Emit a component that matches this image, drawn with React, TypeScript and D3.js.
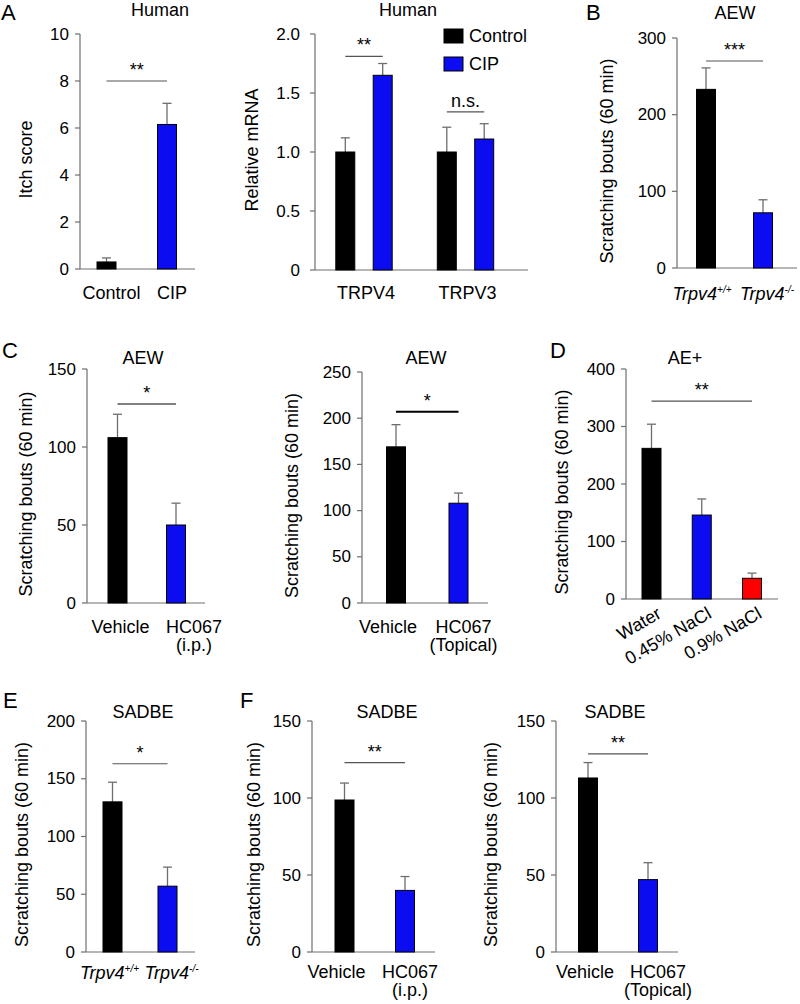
import React from "react";
import * as d3 from "d3";

// ---------- DATA ----------
const itchCategories = ["Control", "CIP"];
const itchValues = [0.3, 6.15];
const itchSem = [0.17, 0.9];
const itchTicks = [0, 2, 4, 6, 8, 10];

const mrnaGenes = ["TRPV4", "TRPV3"];
const mrnaSeries = ["Control", "CIP"];
const mrnaControl = [1.0, 1.0];
const mrnaControlSem = [0.12, 0.21];
const mrnaCip = [1.65, 1.11];
const mrnaCipSem = [0.1, 0.13];
const mrnaTicks = [0, 0.5, 1.0, 1.5, 2.0];
const mrnaTickLabels = ["0", "0.5", "1.0", "1.5", "2.0"];

const bCategories = ["Trpv4+/+", "Trpv4-/-"];
const bValues = [233, 72];
const bSem = [28, 17];
const bTicks = [0, 100, 200, 300];

const c1Categories = ["Vehicle", "HC067|(i.p.)"];
const c1Values = [106, 50];
const c1Sem = [15, 14];
const c1Ticks = [0, 50, 100, 150];

const c2Categories = ["Vehicle", "HC067|(Topical)"];
const c2Values = [169, 108];
const c2Sem = [24, 11];
const c2Ticks = [0, 50, 100, 150, 200, 250];

const dCategories = ["Water", "0.45% NaCl", "0.9% NaCl"];
const dValues = [262, 146, 36];
const dSem = [42, 28, 9];
const dTicks = [0, 100, 200, 300, 400];

const eCategories = ["Trpv4+/+", "Trpv4-/-"];
const eValues = [130, 57];
const eSem = [17, 16.5];
const eTicks = [0, 50, 100, 150, 200];

const f1Categories = ["Vehicle", "HC067|(i.p.)"];
const f1Values = [98.7, 40];
const f1Sem = [11, 9];
const f1Ticks = [0, 50, 100, 150];

const f2Categories = ["Vehicle", "HC067|(Topical)"];
const f2Values = [113, 47];
const f2Sem = [10, 11];
const f2Ticks = [0, 50, 100, 150];

// ---------- STYLE ----------
const FONT = "'Liberation Sans', Arial, Helvetica, sans-serif";
const AXIS = "#6e6e6e";
const BLACK = "#000000";
const BLUE = "#0c0cf0";
const RED = "#ff0000";
const FS = 18;
const TICKFS = 17;
const BAR_W = 19;

type Sig = { from: number; to: number; y: number; text: string; color?: string; width?: number };

type PanelProps = {
  axisX: number;
  axisEnd: number;
  yTop: number;
  yBottom: number;
  max: number;
  ticks: number[];
  tickLabels?: string[];
  categories: string[];
  values: number[];
  sem: number[];
  colors: string[];
  centers: [number, number];
  title: string;
  titleX: number;
  titleY: number;
  yLabel: string;
  yLabelX: number;
  yLabelDy?: number;
  letter?: string;
  letterX?: number;
  letterY?: number;
  catY: number;
  catDx?: number[];
  catMode?: "plain" | "italic" | "rotated";
  sig: Sig[];
};

function CatLabel({ text, x, y, mode }: { text: string; x: number; y: number; mode: string }) {
  if (mode === "italic") {
    const base = text.slice(0, 5);
    const sup = text.slice(5);
    return (
      <text x={x} y={y} textAnchor="middle" fontSize={FS} fontStyle="italic" fontFamily={FONT}>
        {base}
        <tspan fontSize={10} dy={-7}>{sup}</tspan>
      </text>
    );
  }
  if (mode === "rotated") {
    return (
      <text x={x} y={y} textAnchor="end" fontSize={FS} fontFamily={FONT} transform={`rotate(-30, ${x}, ${y})`}>
        {text}
      </text>
    );
  }
  const lines = text.split("|");
  return (
    <g>
      {lines.map((l, i) => (
        <text key={i} x={x} y={y + i * 18} textAnchor="middle" fontSize={FS} fontFamily={FONT}>
          {l}
        </text>
      ))}
    </g>
  );
}

function Panel(p: PanelProps) {
  const y = d3.scaleLinear().domain([0, p.max]).range([p.yBottom, p.yTop]);
  const x = d3.scalePoint<string>().domain(p.categories).range(p.centers);
  const midY = (p.yTop + p.yBottom) / 2 + (p.yLabelDy ?? 8);
  const mode = p.catMode ?? "plain";
  return (
    <g>
      {p.letter && (
        <text x={p.letterX} y={p.letterY} fontSize={22} fontFamily={FONT}>
          {p.letter}
        </text>
      )}
      <text x={p.titleX} y={p.titleY} textAnchor="middle" fontSize={FS} fontFamily={FONT}>
        {p.title}
      </text>
      <text
        x={p.yLabelX}
        y={midY}
        textAnchor="middle"
        fontSize={FS}
        fontFamily={FONT}
        transform={`rotate(-90, ${p.yLabelX}, ${midY})`}
        dominantBaseline="middle"
      >
        {p.yLabel}
      </text>
      <line x1={p.axisX} x2={p.axisX} y1={p.yTop} y2={p.yBottom} stroke={AXIS} strokeWidth={1.2} />
      <line x1={p.axisX} x2={p.axisEnd} y1={p.yBottom} y2={p.yBottom} stroke={AXIS} strokeWidth={1.2} />
      {p.ticks.map((t, i) => (
        <g key={i}>
          <line x1={p.axisX - 5} x2={p.axisX} y1={y(t)} y2={y(t)} stroke={AXIS} strokeWidth={1.2} />
          <text x={p.axisX - 11} y={y(t)} textAnchor="end" dominantBaseline="central" fontSize={TICKFS} fontFamily={FONT}>
            {p.tickLabels ? p.tickLabels[i] : String(t)}
          </text>
        </g>
      ))}
      {p.categories.map((c, i) => {
        const cx = x(c) as number;
        const top = y(p.values[i]);
        const et = y(p.values[i] + p.sem[i]);
        return (
          <g key={c}>
            <line x1={cx} x2={cx} y1={top} y2={et} stroke={AXIS} strokeWidth={1.3} />
            <line x1={cx - 4.5} x2={cx + 4.5} y1={et} y2={et} stroke={AXIS} strokeWidth={1.3} />
            <rect x={cx - BAR_W / 2} y={top} width={BAR_W} height={p.yBottom - top} fill={p.colors[i]} stroke={BLACK} strokeWidth={1} />
          </g>
        );
      })}
      {p.sig.map((s, i) => {
        const x1 = x(p.categories[s.from]) as number;
        const x2 = x(p.categories[s.to]) as number;
        const yy = y(s.y);
        return (
          <g key={i}>
            <line x1={x1} x2={x2} y1={yy} y2={yy} stroke={s.color ?? "#555"} strokeWidth={s.width ?? 1.2} />
            <text x={(x1 + x2) / 2} y={yy - 5} textAnchor="middle" fontSize={FS} fontFamily={FONT}>
              {s.text}
            </text>
          </g>
        );
      })}
      {p.categories.map((c, i) => {
        const cx = (x(c) as number) + (p.catDx ? p.catDx[i] : 0);
        if (mode === "rotated") return <CatLabel key={c} text={c} x={cx + 11} y={p.catY} mode={mode} />;
        return <CatLabel key={c} text={c} x={cx} y={p.catY} mode={mode} />;
      })}
    </g>
  );
}

function MrnaPanel() {
  const axisX = 315;
  const axisEnd = 528;
  const yTop = 34;
  const yBottom = 270;
  const y = d3.scaleLinear().domain([0, 2]).range([yBottom, yTop]);
  const x0 = d3.scalePoint<string>().domain(mrnaGenes).range([364, 465.5]);
  const x1 = d3.scalePoint<string>().domain(mrnaSeries).range([-18.7, 18.7]);
  const seriesVals = [mrnaControl, mrnaCip];
  const seriesSem = [mrnaControlSem, mrnaCipSem];
  const seriesCol = [BLACK, BLUE];
  const sigs = [
    { gene: 0, y: 1.81, text: "**" },
    { gene: 1, y: 1.34, text: "n.s." },
  ];
  const midY = (yTop + yBottom) / 2 - 2;
  const yl = 253;
  return (
    <g>
      <text x={408} y={16} textAnchor="middle" fontSize={FS} fontFamily={FONT}>
        Human
      </text>
      <text x={yl} y={midY} textAnchor="middle" dominantBaseline="middle" fontSize={FS} fontFamily={FONT} transform={`rotate(-90, ${yl}, ${midY})`}>
        Relative mRNA
      </text>
      <line x1={axisX} x2={axisX} y1={yTop} y2={yBottom} stroke={AXIS} strokeWidth={1.2} />
      <line x1={axisX} x2={axisEnd} y1={yBottom} y2={yBottom} stroke={AXIS} strokeWidth={1.2} />
      {mrnaTicks.map((t, i) => (
        <g key={i}>
          <line x1={axisX - 5} x2={axisX} y1={y(t)} y2={y(t)} stroke={AXIS} strokeWidth={1.2} />
          <text x={axisX - 15} y={y(t)} textAnchor="end" dominantBaseline="central" fontSize={TICKFS} fontFamily={FONT}>
            {mrnaTickLabels[i]}
          </text>
        </g>
      ))}
      {mrnaGenes.map((g, gi) => (
        <g key={g}>
          {mrnaSeries.map((s, si) => {
            const cx = (x0(g) as number) + (x1(s) as number);
            const v = seriesVals[si][gi];
            const top = y(v);
            const et = y(v + seriesSem[si][gi]);
            return (
              <g key={s}>
                <line x1={cx} x2={cx} y1={top} y2={et} stroke={AXIS} strokeWidth={1.3} />
                <line x1={cx - 4.5} x2={cx + 4.5} y1={et} y2={et} stroke={AXIS} strokeWidth={1.3} />
                <rect x={cx - BAR_W / 2} y={top} width={BAR_W} height={yBottom - top} fill={seriesCol[si]} stroke={BLACK} strokeWidth={1} />
              </g>
            );
          })}
          <text x={(x0(g) as number) + 2} y={299} textAnchor="middle" fontSize={FS} fontFamily={FONT}>
            {g}
          </text>
        </g>
      ))}
      {sigs.map((s, i) => {
        const g = mrnaGenes[s.gene];
        const xa = (x0(g) as number) + (x1("Control") as number);
        const xb = (x0(g) as number) + (x1("CIP") as number);
        const yy = y(s.y);
        return (
          <g key={i}>
            <line x1={xa} x2={xb} y1={yy} y2={yy} stroke="#555" strokeWidth={1.2} />
            <text x={(xa + xb) / 2} y={yy - 5} textAnchor="middle" fontSize={FS} fontFamily={FONT}>
              {s.text}
            </text>
          </g>
        );
      })}
      {mrnaSeries.map((s, i) => (
        <g key={s}>
          <rect x={444} y={29 + i * 28} width={19} height={14} fill={seriesCol[i]} stroke={BLACK} strokeWidth={1} />
          <text x={469} y={36 + i * 28} dominantBaseline="central" fontSize={FS} fontFamily={FONT}>
            {s}
          </text>
        </g>
      ))}
    </g>
  );
}

const SB = "Scratching bouts (60 min)";

export default function App() {
  return (
    <svg width={800} height={1004} viewBox="0 0 800 1004" style={{ position: "absolute", left: 0, top: 0, background: "#fff" }}>
      <rect x={0} y={0} width={800} height={1004} fill="#fff" />
      <Panel
        axisX={80} axisEnd={195} yTop={34} yBottom={269} max={10}
        ticks={itchTicks} categories={itchCategories} values={itchValues} sem={itchSem}
        colors={[BLACK, BLUE]} centers={[106.5, 167]}
        title="Human" titleX={160} titleY={16}
        yLabel="Itch score" yLabelX={27}
        letter="A" letterX={1} letterY={20}
        catY={299} catDx={[5, 5]}
        sig={[{ from: 0, to: 1, y: 8, text: "**" }]}
      />
      <MrnaPanel />
      <Panel
        axisX={677} axisEnd={797} yTop={38} yBottom={268} max={300}
        ticks={bTicks} categories={bCategories} values={bValues} sem={bSem}
        colors={[BLACK, BLUE]} centers={[706, 763]}
        title="AEW" titleX={735} titleY={19}
        yLabel={SB} yLabelX={608}
        letter="B" letterX={586} letterY={20}
        catY={300} catDx={[-4, 4]} catMode="italic"
        sig={[{ from: 0, to: 1, y: 270, text: "***" }]}
      />
      <Panel
        axisX={87} axisEnd={205} yTop={369} yBottom={603} max={150}
        ticks={c1Ticks} categories={c1Categories} values={c1Values} sem={c1Sem}
        colors={[BLACK, BLUE]} centers={[117.5, 176]}
        title="AEW" titleX={143} titleY={364}
        yLabel={SB} yLabelX={27}
        letter="C" letterX={2} letterY={358}
        catY={633} catDx={[3, 18]}
        sig={[{ from: 0, to: 1, y: 127.5, text: "*", color: "#808080", width: 2 }]}
      />
      <Panel
        axisX={362} axisEnd={488} yTop={372} yBottom={603} max={250}
        ticks={c2Ticks} categories={c2Categories} values={c2Values} sem={c2Sem}
        colors={[BLACK, BLUE]} centers={[396, 458.5]}
        title="AEW" titleX={426} titleY={364}
        yLabel={SB} yLabelX={293}
        catY={633} catDx={[-8, 5]}
        sig={[{ from: 0, to: 1, y: 207, text: "*", color: "#000", width: 2 }]}
      />
      <Panel
        axisX={626} axisEnd={778} yTop={369} yBottom={599} max={400}
        ticks={dTicks} categories={dCategories} values={dValues} sem={dSem}
        colors={[BLACK, BLUE, RED]} centers={[651.5, 752]}
        title="AE+" titleX={685} titleY={364}
        yLabel={SB} yLabelX={563}
        letter="D" letterX={550} letterY={358}
        catY={617} catMode="rotated"
        sig={[{ from: 0, to: 2, y: 344, text: "**" }]}
      />
      <Panel
        axisX={86} axisEnd={195} yTop={721} yBottom={952} max={200}
        ticks={eTicks} categories={eCategories} values={eValues} sem={eSem}
        colors={[BLACK, BLUE]} centers={[112.5, 167.5]}
        title="SADBE" titleX={143} titleY={718}
        yLabel={SB} yLabelX={23}
        letter="E" letterX={3} letterY={708}
        catY={979} catDx={[-3, 4]} catMode="italic"
        sig={[{ from: 0, to: 1, y: 163, text: "*" }]}
      />
      <Panel
        axisX={312} axisEnd={435} yTop={721} yBottom={952} max={150}
        ticks={f1Ticks} categories={f1Categories} values={f1Values} sem={f1Sem}
        colors={[BLACK, BLUE]} centers={[344.5, 405]}
        title="SADBE" titleX={387} titleY={718}
        yLabel={SB} yLabelX={255}
        letter="F" letterX={240} letterY={708}
        catY={978} catDx={[-8, 5]}
        sig={[{ from: 0, to: 1, y: 123, text: "**" }]}
      />
      <Panel
        axisX={556} axisEnd={678} yTop={721} yBottom={952} max={150}
        ticks={f2Ticks} categories={f2Categories} values={f2Values} sem={f2Sem}
        colors={[BLACK, BLUE]} centers={[588, 648]}
        title="SADBE" titleX={615} titleY={718}
        yLabel={SB} yLabelX={492}
        catY={978} catDx={[-3, 10]}
        sig={[{ from: 0, to: 1, y: 128.6, text: "**" }]}
      />
    </svg>
  );
}
